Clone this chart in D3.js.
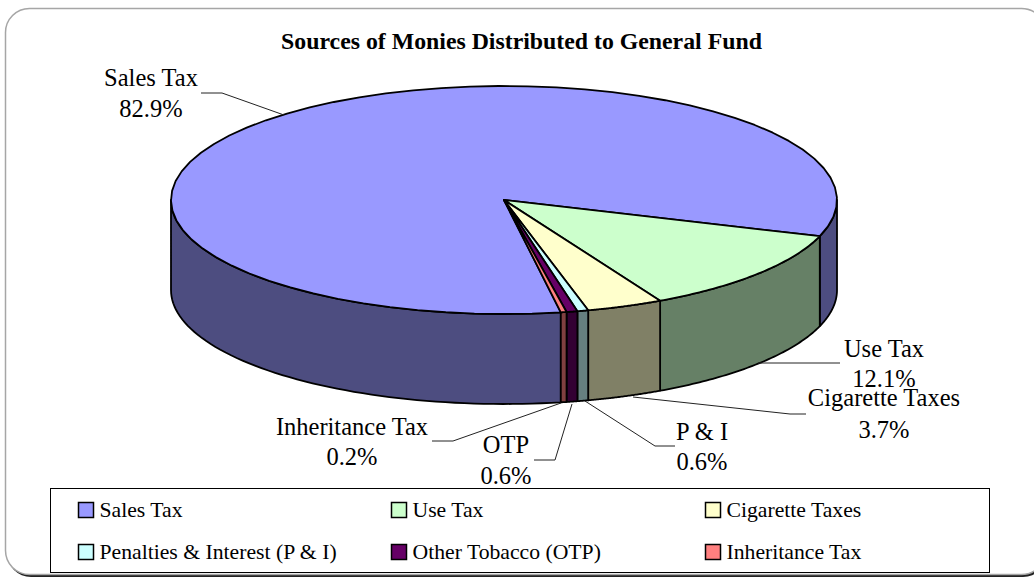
<!DOCTYPE html>
<html>
<head>
<meta charset="utf-8">
<script src="https://cdnjs.cloudflare.com/ajax/libs/d3/7.8.5/d3.min.js"></script>
<style>
html,body{margin:0;padding:0;background:#fff;overflow:hidden}
svg{display:block}
text{font-family:"Liberation Serif","Times New Roman",serif;fill:#000}
</style>
</head>
<body>
<svg id="chart" width="1034" height="578"></svg>
<script>
const chartTitle = "Sources of Monies Distributed to General Fund";
const legendNames = ["Sales Tax","Use Tax","Cigarette Taxes","Penalties & Interest (P & I)","Other Tobacco (OTP)","Inheritance Tax"];
const sliceLabels = ["Sales Tax","Use Tax","Cigarette Taxes","P & I","OTP","Inheritance Tax"];
// Percentages as printed on the labels
const sliceValues = [82.9,12.1,3.7,0.6,0.6,0.2];
// Shares (the reference draws the smallest slices slightly off their labels)
const drawnShares = [82.9,12.1,3.7,0.53,0.53,0.28];
const topColors = ["#9999FF","#CCFFCC","#FFFFCC","#CCFFFF","#660066","#FF8080"];
const wallColors = ["#4D4D80","#668066","#808066","#668080","#330033","#804040"];

// Layout: pie geometry, label anchors, leader paths
const W = 1034, H = 578;
const cx = 504, cy = 200, rx = 333, ry = 114, depth = 90;
const useTaxStartDeg = 108.5; // clockwise from north
const labelLayout = [
  {x:151, y1:86,  y2:117, leader:[[201,93],[222,93],[284,115]]},
  {x:884, y1:357, y2:387, leader:[[758,363],[840,363]]},
  {x:884, y1:406, y2:438, leader:[[633,397],[790,414],[806,414]]},
  {x:702, y1:440, y2:470, leader:[[585,401],[655,446],[675,446]]},
  {x:506, y1:453, y2:484, leader:[[572,404],[555,460],[534,460]]},
  {x:352, y1:435, y2:465, leader:[[561,403],[453,441],[432,441]]}
];
const legendCols = [78,391,705], legendRows = [502,544], swatch = 15;

const svg = d3.select("#chart");

// Frame: grey rounded outline with a darker drop shadow at the bottom
svg.append("rect").attr("x",7).attr("y",11).attr("width",1040).attr("height",566).attr("rx",24)
  .attr("fill","#222");
svg.append("rect").attr("x",5.5).attr("y",8.5).attr("width",1040).attr("height",566).attr("rx",24)
  .attr("fill","#fff").attr("stroke","#a6a6a6").attr("stroke-width",1.5);

// Pie layout: angles are clockwise from north, d3.pie convention
const total = d3.sum(drawnShares);
const salesSweep = drawnShares[0]/total*2*Math.PI;
const start = useTaxStartDeg*Math.PI/180 - salesSweep;
const pie = d3.pie().sort(null).value(d=>d).startAngle(start).endAngle(start+2*Math.PI);
const arcs = pie(drawnShares);
const px = a => cx + rx*Math.sin(a);
const py = a => cy - ry*Math.cos(a);
const line = d3.line();
const sample = (a0,a1) => d3.range(0,61).map(i=>a0+(a1-a0)*i/60);

const gWalls = svg.append("g"), gTop = svg.append("g");

// Visible outer wall of each slice: the part on the lower half of the ellipse
const PI = Math.PI;
function wallRanges(a0,a1){
  const out=[];
  for(const k of [0,2*PI,-2*PI]){
    const s=Math.max(a0+k,PI/2), e=Math.min(a1+k,3*PI/2);
    if(e>s) out.push([s,e]);
  }
  return out;
}
arcs.forEach((d,i)=>{
  wallRanges(d.startAngle,d.endAngle).forEach(([s,e])=>{
    const t = sample(s,e);
    const pts = t.map(a=>[px(a),py(a)]).concat(t.slice().reverse().map(a=>[px(a),py(a)+depth]));
    gWalls.append("path").attr("d",line(pts)+"Z")
      .attr("fill",wallColors[i]).attr("stroke","#000").attr("stroke-width",1.8).attr("stroke-linejoin","round");
  });
});
arcs.forEach((d,i)=>{
  const t = sample(d.startAngle,d.endAngle);
  const pts = [[cx,cy]].concat(t.map(a=>[px(a),py(a)]));
  gTop.append("path").attr("d",line(pts)+"Z")
    .attr("fill",topColors[i]).attr("stroke","#000").attr("stroke-width",1.8).attr("stroke-linejoin","round");
});

// Title
svg.append("text").attr("x",521.5).attr("y",49).attr("text-anchor","middle")
  .attr("font-weight","bold").attr("font-size",23.8).text(chartTitle);

// Leader lines and data labels
const fmt = d3.format(".1f");
labelLayout.forEach((l,i)=>{
  svg.append("path").attr("d",line(l.leader)).attr("fill","none").attr("stroke","#222").attr("stroke-width",1);
  svg.append("text").attr("x",l.x).attr("y",l.y1).attr("text-anchor","middle").attr("font-size",24.5).text(sliceLabels[i]);
  svg.append("text").attr("x",l.x).attr("y",l.y2).attr("text-anchor","middle").attr("font-size",24.5).text(fmt(sliceValues[i])+"%");
});

// Legend
svg.append("rect").attr("x",50.5).attr("y",488.5).attr("width",939).attr("height",84)
  .attr("fill","#fff").attr("stroke","#000").attr("stroke-width",1);
legendNames.forEach((n,i)=>{
  const x = legendCols[i%3], y = legendRows[Math.floor(i/3)];
  svg.append("rect").attr("x",x+.5).attr("y",y+.5).attr("width",swatch).attr("height",swatch)
    .attr("fill",topColors[i]).attr("stroke","#000").attr("stroke-width",1.5);
  svg.append("text").attr("x",x+21.5).attr("y",y+15).attr("font-size",21.7).text(n);
});
</script>
</body>
</html>
